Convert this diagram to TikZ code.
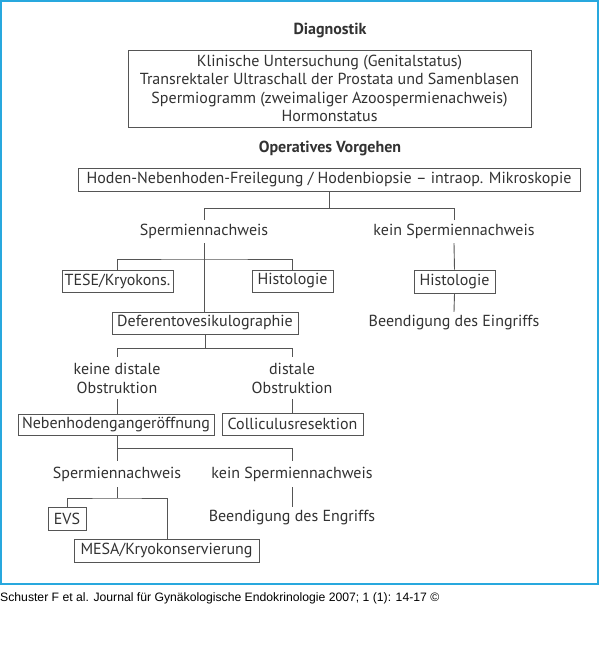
\documentclass[tikz,border=0pt]{standalone}
\usepackage{fontspec}
\setmainfont{PT Sans}
\newfontfamily\capfont{Liberation Sans}
\usetikzlibrary{calc}
\definecolor{frameblue}{RGB}{40,168,222}
\definecolor{txt}{RGB}{50,50,50}
\definecolor{ln}{RGB}{85,85,85}
\tikzset{
  box/.style 2 args={draw=ln, line width=0.9pt, inner sep=0pt, minimum width=#1pt, minimum height=#2pt, text=txt, font=\fontsize{16}{19}\selectfont},
  lbl/.style={inner sep=0pt, minimum height=#1pt, text=txt, font=\fontsize{16}{19}\selectfont, align=center},
  ttl/.style={inner sep=0pt, text=txt, font=\fontsize{16}{19}\selectfont\bfseries},
  conn/.style={draw=ln, line width=0.9pt},
}
\begin{document}
\begin{tikzpicture}[x=1pt,y=-1pt]
\useasboundingbox (0,0) rectangle (600,647);
\fill[white] (0,0) rectangle (600,647);
\draw[frameblue, line width=2pt] (1,1) rectangle (598,584);
\node[anchor=west, inner sep=0pt, font=\capfont\fontsize{12.2}{14}\selectfont] (cap) at (0,598) {Schuster F et al. Journal für Gynäkologische Endokrinologie 2007; 1 (1): 14-17 ©};

\node[ttl] (diagt) at (330,31) {Diagnostik};
\node[box={403}{77}, align=center, font=\fontsize{16}{18.6}\selectfont] (diag) at (329.5,88.5)
  {Klinische Untersuchung (Genitalstatus)\\Transrektaler Ultraschall der Prostata und Samenblasen\\Spermiogramm (zweimaliger Azoospermienachweis)\\Hormonstatus};
\node[ttl] (opt) at (330,148) {Operatives Vorgehen};

\node[box={502}{23}] (hoden) at (329,179.5) {Hoden-Nebenhoden-Freilegung / Hodenbiopsie -- intraop. Mikroskopie};

\node[lbl=23] (sp1) at (204,231.5) {Spermiennachweis};
\node[lbl=23] (ksp1) at (454,231.5) {kein Spermiennachweis};
\node[box={111}{22}] (tese) at (117.5,281) {TESE/Kryokons.};
\node[box={81}{22}] (his1) at (292.5,281) {Histologie};
\node[box={81}{23}] (his2) at (454.5,281.5) {Histologie};
\node[lbl=22] (be1) at (454,323) {Beendigung des Eingriffs};
\node[box={186}{22}] (def) at (205,323) {Deferentovesikulographie};

\node[lbl=42] (kdo) at (117,378) {keine distale\\Obstruktion};
\node[lbl=42] (do) at (292,378) {distale\\Obstruktion};
\node[box={196}{21}] (neb) at (116,424.5) {Nebenhodengangeröffnung};
\node[box={141}{22}] (col) at (292.5,424) {Colliculusresektion};

\node[lbl=26] (sp2) at (117,474) {Spermiennachweis};
\node[lbl=26] (ksp2) at (292,474) {kein Spermiennachweis};
\node[box={38}{23}] (evs) at (67,518.5) {EVS};
\node[box={185}{23}] (mesa) at (166.5,550.5) {MESA/Kryokonservierung};
\node[lbl=22] (be2) at (292,518) {Beendigung des Engriffs};

% connectors
\coordinate (j1) at ($(hoden.south)+(0,17)$);
\draw[conn] (hoden.south) -- (j1);
\draw[conn] (sp1.north) |- (j1) -| (ksp1.north);
\draw[conn] (ksp1.south) -- (his2.north);
\draw[conn] (his2.south) -- (be1.north);
\draw[conn] (sp1.south) -- (sp1.south |- def.north);
\coordinate (j2) at (204,259);
\draw[conn] (tese.north) |- (j2) -| (his1.north);
\coordinate (j3) at ($(def.south)+(0,14)$);
\draw[conn] (def.south) -- (j3);
\draw[conn] (kdo.north) |- (j3) -| (do.north);
\draw[conn] (kdo.south) -- (kdo.south |- neb.north);
\draw[conn] (do.south) -- (do.south |- col.north);
\coordinate (j4) at (117,448);
\draw[conn] (j4 |- neb.south) -- (j4);
\draw[conn] (sp2.north) |- (j4) -| (ksp2.north);
\draw[conn] (ksp2.south) -- (be2.north);
\coordinate (j5) at (117,498);
\coordinate (j6) at (167,498);
\draw[conn] (sp2.south) -- (j5);
\draw[conn] (evs.north) |- (j5) -- (j6) -- (j6 |- mesa.north);
\end{tikzpicture}
\end{document}
